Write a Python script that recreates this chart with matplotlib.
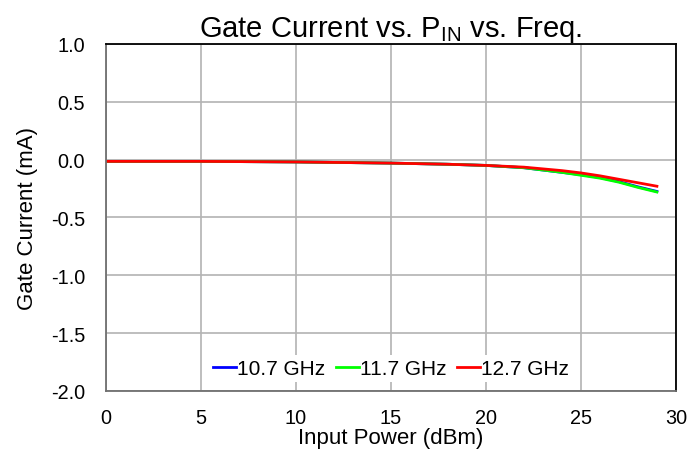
import matplotlib
matplotlib.use("Agg")
import matplotlib.pyplot as plt

plt.rcParams["font.family"] = ["Liberation Sans", "DejaVu Sans"]
plt.rcParams["mathtext.fontset"] = "custom"
plt.rcParams["mathtext.rm"] = "Liberation Sans"

# input power (dBm)
pin = [0, 5, 10, 15, 18, 20, 22, 23, 24, 25, 26, 27, 28, 29]

# gate current (mA) per frequency
ig_107 = [-0.015, -0.015, -0.02, -0.03, -0.04, -0.05, -0.07, -0.09, -0.11, -0.13, -0.155, -0.19, -0.235, -0.275]
ig_117 = [-0.015, -0.015, -0.02, -0.03, -0.04, -0.05, -0.07, -0.09, -0.11, -0.135, -0.16, -0.195, -0.24, -0.28]
ig_127 = [-0.015, -0.015, -0.02, -0.03, -0.04, -0.05, -0.065, -0.08, -0.095, -0.115, -0.14, -0.17, -0.2, -0.23]

labels = ["10.7 GHz", "11.7 GHz", "12.7 GHz"]
colors = ["#0000ff", "#00ff00", "#ff0000"]

fig = plt.figure(figsize=(6.89, 4.56), dpi=100)
ax = fig.add_axes([0.1538, 0.1404, 0.8272, 0.761])

for ys, lab, c in zip([ig_107, ig_117, ig_127], labels, colors):
    ax.plot(pin, ys, color=c, linewidth=2, label=lab)

ax.set_xlim(0, 30)
ax.set_ylim(-2.0, 1.0)
ax.set_xticks(range(0, 31, 5))
ax.set_yticks([-2.0, -1.5, -1.0, -0.5, 0.0, 0.5, 1.0])
ax.set_yticklabels(["-2.0", "-1.5", "-1.0", "-0.5", "0.0", "0.5", "1.0"])
ax.grid(True, color="#b3b3b3", linewidth=1.2)
ax.set_axisbelow(True)
ax.tick_params(length=0, labelsize=14.3)
ax.tick_params(axis="x", pad=12)
ax.tick_params(axis="y", pad=15)
for name, s in ax.spines.items():
    s.set_linewidth(1.3)
    s.set_color("#707070" if name in ("left", "bottom") else "black")

ax.set_xlabel("Input Power (dBm)", fontsize=16, labelpad=0)
ax.set_ylabel("Gate Current (mA)", fontsize=16, labelpad=9)
ax.set_title(r"Gate Current vs. P$_{\mathrm{IN}}$ vs. Freq.", fontsize=21, pad=5)

leg = ax.legend(loc="lower center", bbox_to_anchor=(0.5, -0.005), ncol=3, frameon=True,
                fontsize=15, handlelength=1.1, handletextpad=0.05, columnspacing=0.5,
                borderpad=0.2)
leg.get_frame().set_edgecolor("none")
leg.get_frame().set_facecolor("white")
leg.get_frame().set_alpha(1)
leg.get_frame().set_boxstyle("square", pad=0)

fig.savefig("out.png", dpi=100)
